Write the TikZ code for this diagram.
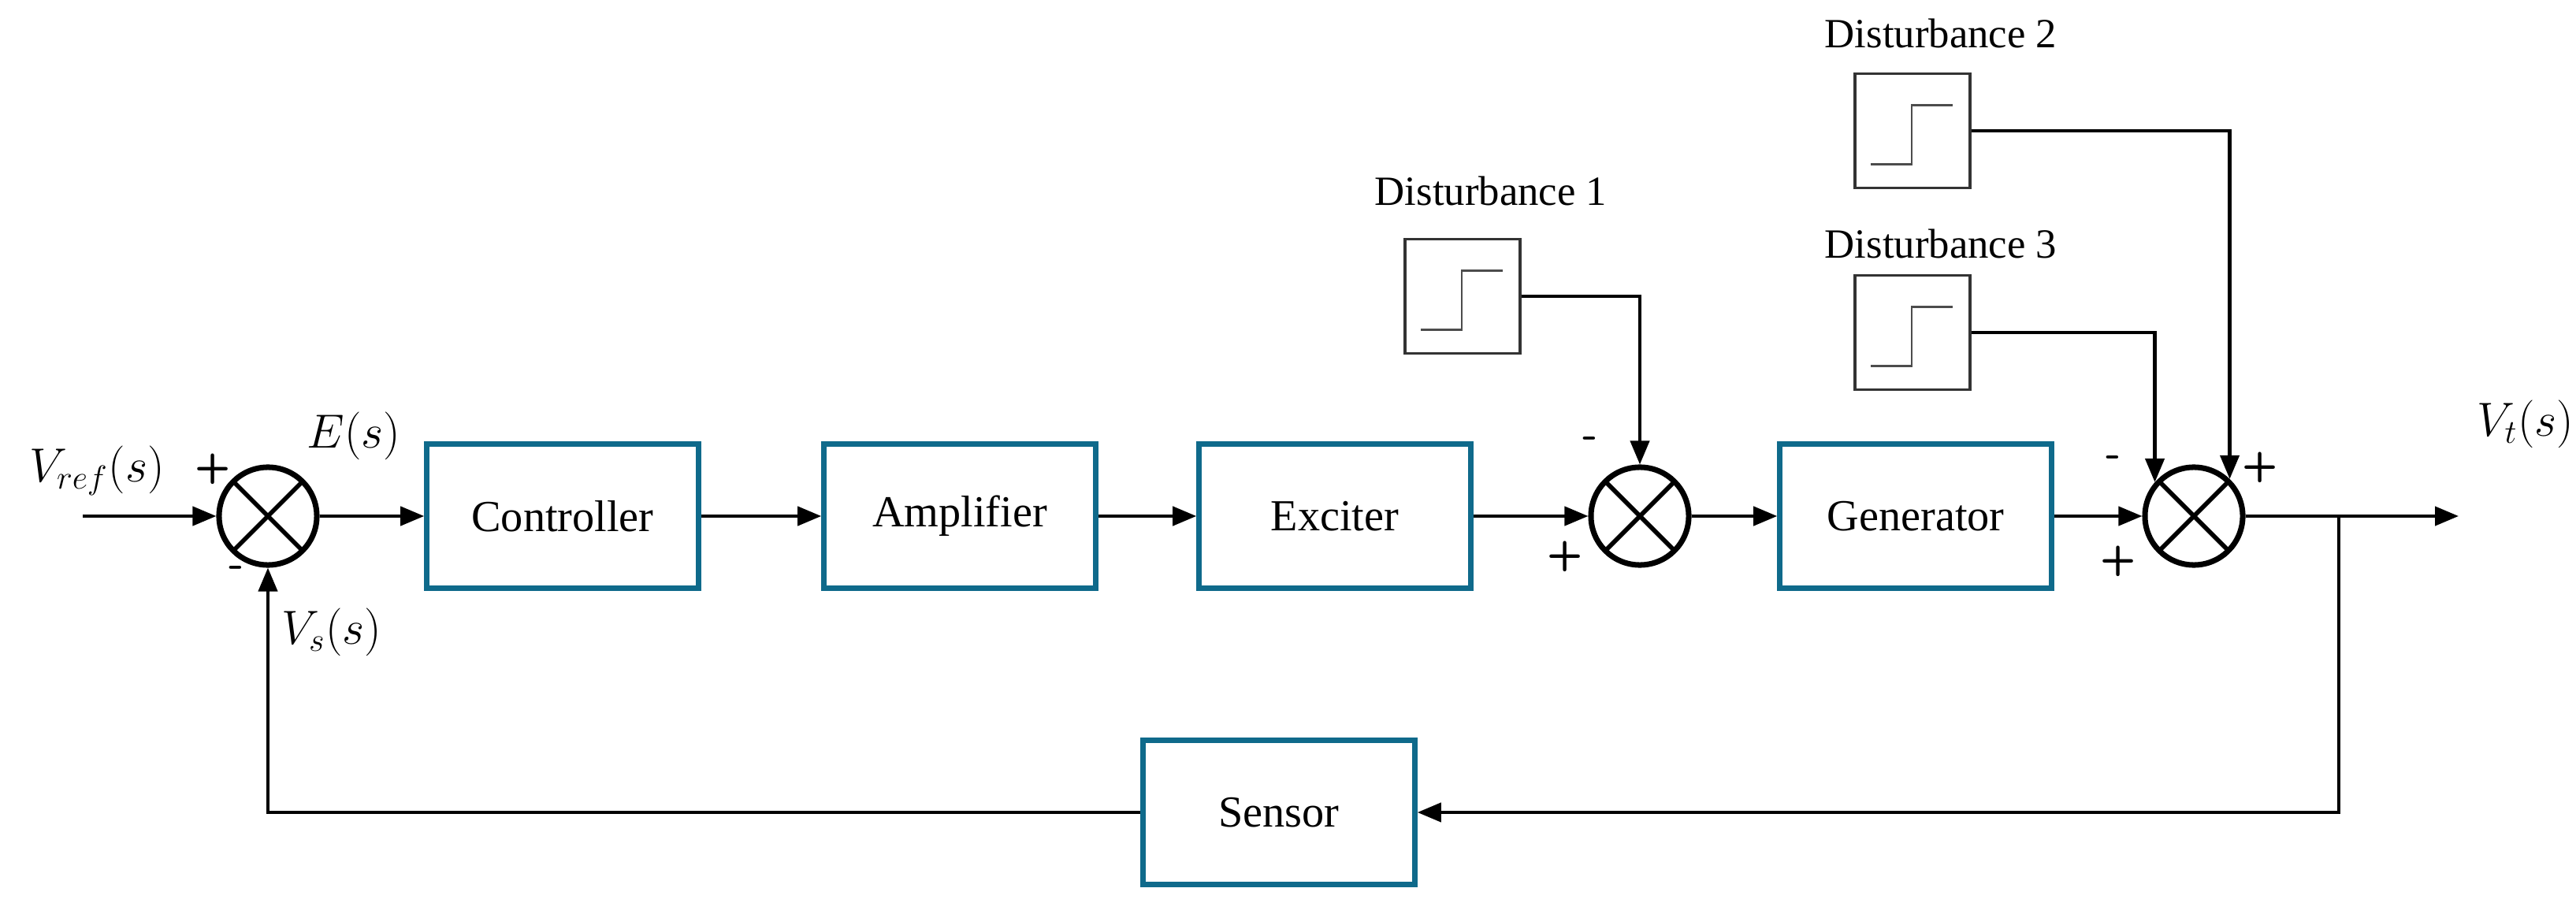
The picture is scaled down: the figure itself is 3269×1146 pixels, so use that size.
\documentclass[tikz,border=0pt]{standalone}
\usepackage{fontspec}
\setmainfont{Liberation Serif}
\usetikzlibrary{arrows.meta}
\definecolor{boxc}{HTML}{0F6A8B}
\begin{document}
\begin{tikzpicture}[x=0.01cm,y=-0.01cm,
  blk/.style={draw=boxc,line width=1.8pt,minimum width=3.45cm,minimum height=1.83cm,font=\fontsize{16}{18}\selectfont,inner sep=0pt},
  sum/.style={circle,draw,line width=2pt,minimum size=1.24cm,inner sep=0pt,
    path picture={\draw[line width=1.6pt] (path picture bounding box.north west)--(path picture bounding box.south east)
      (path picture bounding box.north east)--(path picture bounding box.south west);}},
  stepblk/.style={draw=black!80,line width=0.9pt,minimum width=1.46cm,minimum height=1.45cm,inner sep=0pt,fill=white,
    path picture={\draw[black!70,line width=0.8pt] ([xshift=0.2cm,yshift=0.3cm]path picture bounding box.south west) -- ++(0.52cm,0cm) -- ++(0cm,0.75cm) -- ++(0.52cm,0cm);}},
  con/.style={line width=1.2pt,-{Triangle[length=0.3cm,width=0.24cm]}},
  lbl/.style={font=\fontsize{15}{17}\selectfont},
  sg/.style={font=\sffamily\bfseries\fontsize{15}{17}\selectfont},
  ml/.style={font=\fontsize{18}{20}\selectfont}]
\useasboundingbox (0,0) rectangle (3269,1146);
% blocks
\node[sum] (s1) at (340,655) {};
\node[blk] (ctrl) at (714,655) {Controller};
\node[blk] (amp) at (1218,655) {Amplifier};
\node[blk] (exc) at (1694,655) {Exciter};
\node[sum] (s2) at (2081,655) {};
\node[blk] (gen) at (2431,655) {Generator};
\node[sum] (s3) at (2784,655) {};
\node[blk] (sens) at (1623,1031) {Sensor};
% step sources
\node[stepblk] (d1) at (1856,376) {};
\node[stepblk] (d2) at (2427,166) {};
\node[stepblk] (d3) at (2427,422) {};
\node[lbl] (t1) at (1892,242) {Disturbance 1};
\node[lbl] (t2) at (2463,42) {Disturbance 2};
\node[lbl] (t3) at (2463,309) {Disturbance 3};
% coordinates
\coordinate (in) at (105,655);
\coordinate (out) at (3120,655);
\coordinate (br) at (2968,655);
\coordinate (bb) at (2968,1031);
\coordinate (bl) at (340,1031);
% connectors
\draw[con] (in) -- (s1.west);
\draw[con] (s1.east) -- (ctrl.west);
\draw[con] (ctrl.east) -- (amp.west);
\draw[con] (amp.east) -- (exc.west);
\draw[con] (exc.east) -- (s2.west);
\draw[con] (s2.east) -- (gen.west);
\draw[con] (gen.east) -- (s3.west);
\draw[con] (s3.east) -- (out);
\draw[con] (br) -- (bb) -- (sens.east);
\draw[con] (sens.west) -- (bl) -- (s1.south);
\draw[con] (d1.east) -| (s2.north);
\draw[con] (d2.east) -| (s3.46);
\draw[con] (d3.east) -| (s3.139);
% signs
\node[sg] at (270,595) {+};
\node[sg] at (300,726) {-};
\node[sg] at (2018,562) {-};
\node[sg] at (1986,706) {+};
\node[sg] at (2682,586) {-};
\node[sg] at (2868,593) {+};
\node[sg] at (2688,712) {+};
% math labels
\node[ml] (lvref) at (123,597) {$V_{ref}(s)$};
\node[ml] (le) at (449,553) {$E(s)$};
\node[ml] (lvs) at (421,802) {$V_s(s)$};
\node[ml] (lvt) at (3205,538) {$V_t(s)$};
\end{tikzpicture}
\end{document}
